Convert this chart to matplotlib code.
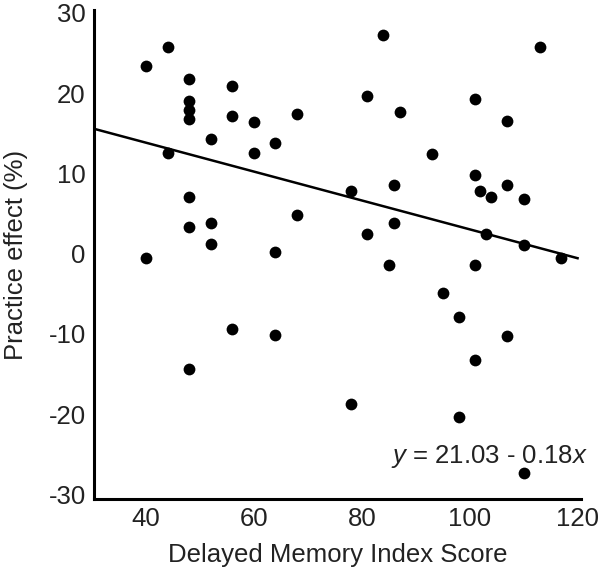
import numpy as np
import matplotlib.pyplot as plt

plt.rcParams['font.family'] = ['Liberation Sans', 'DejaVu Sans']
plt.rcParams['mathtext.fontset'] = 'custom'
plt.rcParams['mathtext.rm'] = 'Liberation Sans'
plt.rcParams['mathtext.it'] = 'Liberation Sans:italic'
plt.rcParams['axes.unicode_minus'] = False

# Delayed Memory Index Score vs practice effect (%)
memory_score = [44, 40, 48, 56, 48, 48, 48, 56, 60, 68, 52, 44, 60, 64,
                48, 68, 48, 52, 52, 64, 40,
                56, 64, 48, 78,
                84, 113, 81, 101, 87, 107, 93, 101, 102, 104, 107, 110,
                78, 86, 81, 86, 103, 110, 117,
                85, 101, 95, 98, 107, 101, 98, 110]
practice_effect = [25.7, 23.4, 21.8, 20.9, 19.0, 17.9, 16.8, 17.1, 16.4, 17.4,
                   14.3, 12.6, 12.6, 13.8, 7.0, 4.8, 3.3, 3.8, 1.2, 0.2, -0.6,
                   -9.4, -10.2, -14.4, -18.8,
                   27.3, 25.7, 19.7, 19.3, 17.6, 16.5, 12.4, 9.8, 7.8, 7.0,
                   8.5, 6.75, 7.8, 8.5, 2.5, 3.8, 2.4, 1.1, -0.5,
                   -1.4, -1.4, -4.9, -7.9, -10.25, -13.2, -20.4, -27.4]

# fitted regression line
intercept = 21.03
slope = -0.18
fit_range = [30, 120]

x_ticks = [40, 60, 80, 100, 120]
y_ticks = [-30, -20, -10, 0, 10, 20, 30]

fig = plt.figure(figsize=(6, 5.75), dpi=100)
ax = fig.add_axes([0.157, 0.132, 0.811, 0.851])

ax.scatter(memory_score, practice_effect, s=72, color='black', zorder=3,
           linewidths=0)
xf = np.array(fit_range)
ax.plot(xf, intercept + slope * xf, color='black', lw=1.8, zorder=2)

ax.set_xlim(30.4, 120.6)
ax.set_ylim(-30.6, 30.4)
ax.set_xticks(x_ticks)
ax.set_yticks(y_ticks)
ax.tick_params(length=0, labelsize=18.5, pad=6, labelcolor='#222222')

for side in ['top', 'right']:
    ax.spines[side].set_visible(False)
for side in ['left', 'bottom']:
    ax.spines[side].set_linewidth(2.2)

ax.set_xlabel('Delayed Memory Index Score', fontsize=18.5, labelpad=8,
              color='#222222')
ax.set_ylabel('Practice effect (%)', fontsize=18.5, labelpad=15,
              color='#222222')

ax.text(85.5, -25.3, '$y$ = 21.03 - 0.18$x$', fontsize=18.5, va='center',
        ha='left', color='#222222')

fig.savefig('out.png', dpi=100)
